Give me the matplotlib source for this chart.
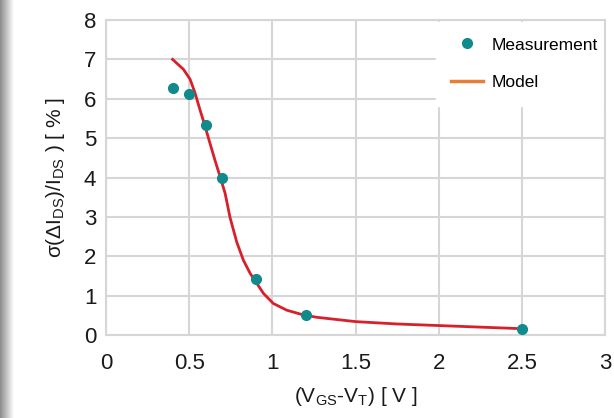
import matplotlib.pyplot as plt
from matplotlib.lines import Line2D
import numpy as np

plt.rcParams['font.family'] = ['Liberation Sans', 'DejaVu Sans']
plt.rcParams['mathtext.fontset'] = 'custom'
plt.rcParams['mathtext.rm'] = 'Liberation Sans'
plt.rcParams['mathtext.it'] = 'Liberation Sans'

# measured points
meas_v = [0.4, 0.5, 0.6, 0.7, 0.9, 1.2, 2.5]
meas_sigma = [6.28, 6.12, 5.33, 4.0, 1.42, 0.52, 0.16]

# model curve
model_v = [0.40, 0.465, 0.505, 0.535, 0.565, 0.595, 0.625, 0.655, 0.686, 0.716,
           0.746, 0.786, 0.826, 0.866, 0.896, 0.946, 1.006, 1.087, 1.186, 1.267,
           1.5, 1.75, 2.0, 2.25, 2.5]
model_sigma = [7.0, 6.75, 6.5, 6.15, 5.72, 5.31, 4.87, 4.44, 4.02, 3.6,
               2.98, 2.36, 1.90, 1.57, 1.38, 1.06, 0.80, 0.63, 0.51, 0.45,
               0.34, 0.28, 0.24, 0.20, 0.16]

xticks = [0, 0.5, 1, 1.5, 2, 2.5, 3]
xticklabels = ['0', '0.5', '1', '1.5', '2', '2.5', '3']
yticks = [0, 1, 2, 3, 4, 5, 6, 7, 8]

teal = '#118a8c'
red = '#d7202b'
orange = '#ea7d36'
grid_c = '#d6d6d6'

fig = plt.figure(figsize=(6.14, 4.18), dpi=100)
fig.patch.set_facecolor('white')

# soft shadow at the left edge
sh = fig.add_axes([0, 0, 14 / 614, 1])
grad = np.linspace(0.55, 1.0, 50).reshape(1, -1)
sh.imshow(grad, cmap='gray', vmin=0, vmax=1, aspect='auto', extent=[0, 1, 0, 1])
sh.axis('off')

ax = fig.add_axes([106 / 614, 83 / 418, 499 / 614, 315 / 418])
ax.set_xlim(0, 3)
ax.set_ylim(0, 8)
ax.set_xticks(xticks)
ax.set_xticklabels(xticklabels)
ax.set_yticks(yticks)
ax.grid(True, color=grid_c, linewidth=1.5)
ax.set_axisbelow(True)
for s in ax.spines.values():
    s.set_color(grid_c)
    s.set_linewidth(1.5)
ax.tick_params(length=0, labelsize=16, colors='#1a1a1a', pad=7)
ax.tick_params(axis='x', pad=13)

ax.plot(model_v, model_sigma, color=red, linewidth=2, zorder=3, solid_joinstyle='round')
ax.plot(meas_v, meas_sigma, 'o', color=teal, markersize=7, zorder=4)

ax.set_xlabel(r'(V$_{\mathrm{GS}}$-V$_{\mathrm{T}}$) [ V ]', fontsize=15, color='#1a1a1a', labelpad=8)
ax.set_ylabel(r'σ(ΔI$_{\mathrm{DS}}$)/I$_{\mathrm{DS}}$ ) [ % ]', fontsize=15, color='#1a1a1a', labelpad=12)

handles = [Line2D([], [], marker='o', linestyle='none', color=teal, markersize=7),
           Line2D([], [], color=orange, linewidth=2.5)]
leg = ax.legend(handles, ['Measurement', 'Model'], loc='upper right',
                bbox_to_anchor=(1.02, 1.0), fontsize=12.5,
                frameon=True, framealpha=1, edgecolor='white', fancybox=False,
                borderaxespad=0.1, handlelength=1.8, labelspacing=1.3, borderpad=0.9,
                handletextpad=0.5)
leg.set_zorder(2)

fig.savefig('out.png', dpi=100)
